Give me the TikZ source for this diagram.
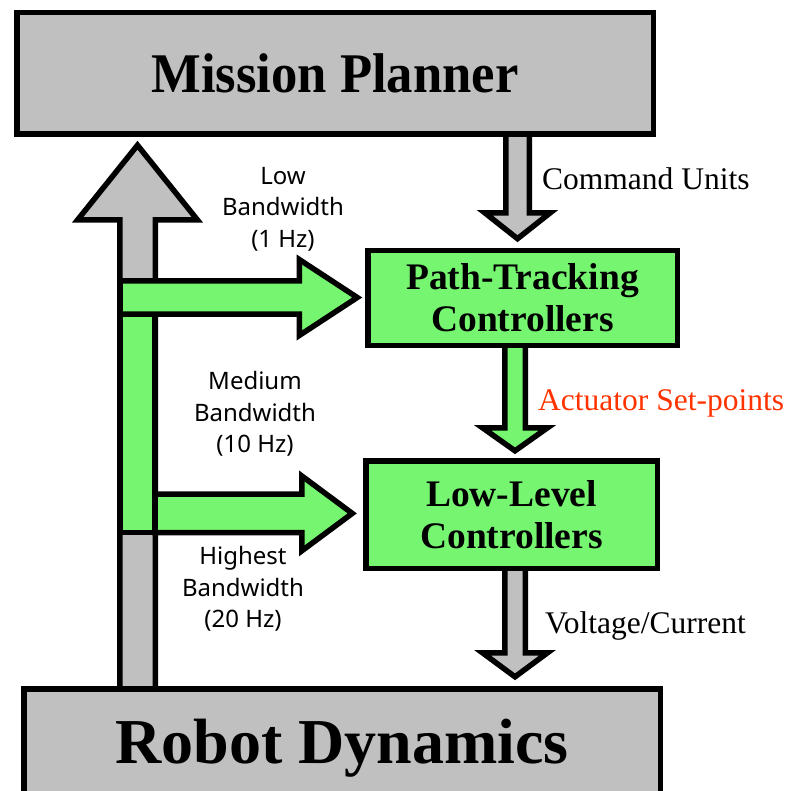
\documentclass[tikz,border=0pt]{standalone}
\usepackage{fontspec}
\setmainfont{Liberation Serif}
\newfontfamily\bwfont{Noto Sans}
\newfontfamily\narrowserif[FakeStretch=0.94]{Liberation Serif}
\usetikzlibrary{calc}

\definecolor{boxgray}{RGB}{192,192,192}
\definecolor{ctrlgreen}{RGB}{118,246,112}
\definecolor{setred}{RGB}{255,51,0}

\pgfdeclarelayer{background}
\pgfsetlayers{background,main}

% block arrows: #1 style, #2 start, #3 tip, #4 shaft half-width, #5 head half-width, #6 head length
\newcommand\blockdown[6]{\draw[#1] let \p1=(#2), \p2=(#3) in
  (\x2-#4,\y1) -- (\x2-#4,\y2+#6) -- (\x2-#5,\y2+#6) -- (\x2,\y2)
  -- (\x2+#5,\y2+#6) -- (\x2+#4,\y2+#6) -- (\x2+#4,\y1);}
\newcommand\blockup[6]{\draw[#1] let \p1=(#2), \p2=(#3) in
  (\x2-#4,\y1) -- (\x2-#4,\y2-#6) -- (\x2-#5,\y2-#6) -- (\x2,\y2)
  -- (\x2+#5,\y2-#6) -- (\x2+#4,\y2-#6) -- (\x2+#4,\y1);}
\newcommand\blockright[6]{\draw[#1] let \p1=(#2), \p2=(#3) in
  (\x1,\y2+#4) -- (\x2-#6,\y2+#4) -- (\x2-#6,\y2+#5) -- (\x2,\y2)
  -- (\x2-#6,\y2-#5) -- (\x2-#6,\y2-#4) -- (\x1,\y2-#4) -- cycle;}

\tikzset{
  outline/.style={draw=black, line width=5.5pt, line join=miter},
  graybox/.style={outline, fill=boxgray, inner sep=0pt},
  greenbox/.style={outline, fill=ctrlgreen, inner sep=0pt, align=center,
    font=\fontsize{37.5}{42}\selectfont\bfseries},
  grayarrow/.style={outline, fill=boxgray},
  greenarrow/.style={outline, fill=ctrlgreen},
  flowlabel/.style={anchor=base west, inner sep=0pt, font=\fontsize{31.5}{36}\selectfont},
  bwlabel/.style={align=center, inner sep=0pt, font=\bwfont\fontsize{24}{31.5}\selectfont},
}

\begin{document}
\begin{tikzpicture}[x=1pt, y=-1pt]
\useasboundingbox (0,0) rectangle (791,791);

% blocks
\node[graybox, minimum width=636.5pt, minimum height=121.5pt,
      font=\narrowserif\fontsize{56}{60}\selectfont\bfseries] (mp) at (335,73.5) {Mission Planner};
\node[graybox, minimum width=636.5pt, minimum height=118.5pt,
      font=\fontsize{64}{70}\selectfont\bfseries] (rd) at (342,748) {Robot Dynamics};
\node[greenbox, minimum width=309.5pt, minimum height=94.5pt] (pt) at (522.5,298) {Path-Tracking\\Controllers};
\node[greenbox, minimum width=291.5pt, minimum height=107.5pt] (ll) at (511.5,514.5) {Low-Level\\Controllers};

% anchor points for the block arrows
\coordinate (cmdx) at (517.5,0);
\coordinate (actx) at (515,0);
\coordinate (voltx) at (515,0);
\coordinate (fbx) at (137.5,0);
\coordinate (low) at (120,297.5);
\coordinate (mid) at (155,513.4);

\begin{pgfonlayer}{background}
  % feedback path up to the planner
  \blockup{grayarrow}{rd.north -| fbx}{$(fbx |- mp.south)+(0,8.2)$}{17.75pt}{60pt}{74.8pt}
  % command flow down the right side
  \blockdown{grayarrow}{mp.south -| cmdx}{$(cmdx |- pt.north)+(0,-9.3)$}{11.75pt}{32.5pt}{25.7pt}
  \blockdown{greenarrow}{pt.south -| actx}{$(actx |- ll.north)+(0,-7.2)$}{10.25pt}{32.5pt}{23pt}
  \blockdown{grayarrow}{ll.south -| voltx}{$(voltx |- rd.north)+(0,-9.2)$}{10.25pt}{32.5pt}{24pt}
  % green feedback taps
  \draw[greenarrow] (120,314.2) rectangle (155,532.5);
  \blockright{greenarrow}{low}{$(pt.west)+(-7.75,-0.5)$}{16.7pt}{38pt}{58pt}
  \blockright{greenarrow}{mid}{$(ll.west)+(-10.75,-1.1)$}{19.2pt}{37.5pt}{50.5pt}
\end{pgfonlayer}

% labels
\node[flowlabel] (cu) at (542,190) {Command Units};
\node[flowlabel, text=setred] (asp) at (538,410) {Actuator Set-points};
\node[flowlabel] (vc) at (545,633) {Voltage/Current};
\node[bwlabel] (bw1) at (283,209) {Low\\Bandwidth\\(1 Hz)};
\node[bwlabel] (bw2) at (255,414) {Medium\\Bandwidth\\(10 Hz)};
\node[bwlabel] (bw3) at (243,589) {Highest\\Bandwidth\\(20 Hz)};
\end{tikzpicture}
\end{document}
